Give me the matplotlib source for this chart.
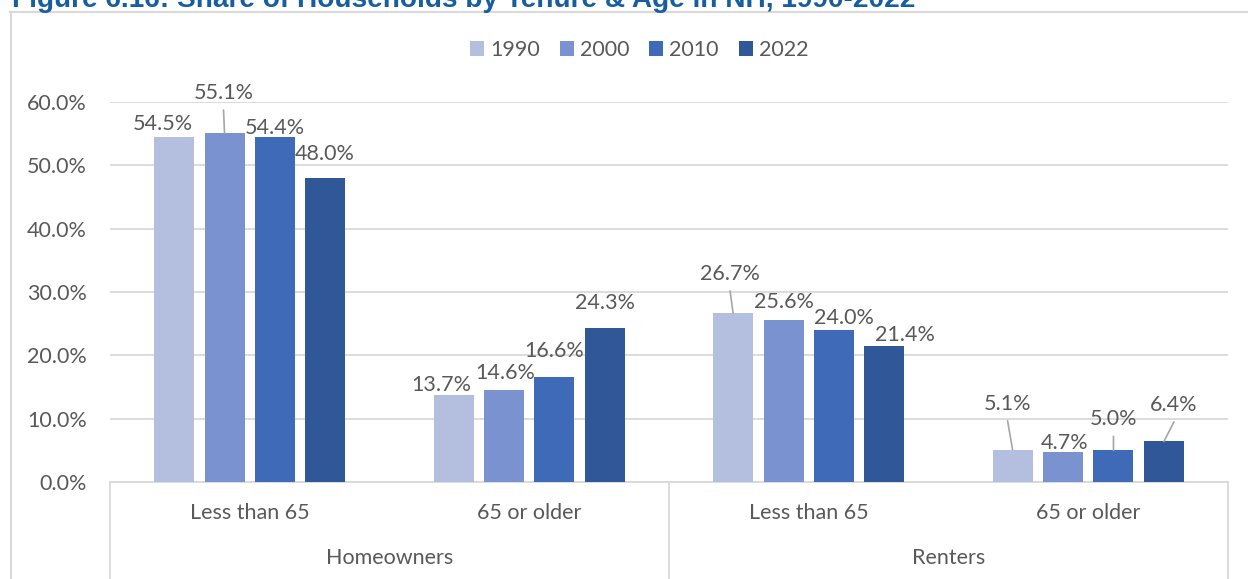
import matplotlib
matplotlib.use("Agg")
import matplotlib.pyplot as plt
from matplotlib.lines import Line2D
from matplotlib.patches import Patch
import numpy as np

# ---- data ----
years = ["1990", "2000", "2010", "2022"]
subgroups = ["Less than 65", "65 or older", "Less than 65", "65 or older"]
tenures = ["Homeowners", "Renters"]
share_1990 = [54.5, 13.7, 26.7, 5.1]
share_2000 = [55.1, 14.6, 25.6, 4.7]
share_2010 = [54.4, 16.6, 24.0, 5.0]
share_2022 = [48.0, 24.3, 21.4, 6.4]
series = [share_1990, share_2000, share_2010, share_2022]
y_ticks = [0, 10, 20, 30, 40, 50, 60]

title = "Figure 6.16: Share of Households by Tenure & Age in NH, 1990-2022"

# ---- styling ----
colors = ["#B4BFE0", "#7A93D0", "#3E6AB8", "#305899"]
text_color = "#595959"
grid_color = "#D9D9D9"
leader_color = "#A6A6A6"
font = ["Lato", "DejaVu Sans"]
fs = 15.5

# label offsets from each bar's top centre, in pixels (dx, dy), per series / group
label_offsets = [
    [(-11, 13), (-12, 10), (-3, 39), (-5, 46)],
    [(-1, 40), (1, 17), (0, 18), (1.5, 9)],
    [(0, 9), (0, 26), (10, 12), (0, 31)],
    [(-1, 24.5), (0, 25), (21, 11.5), (10, 36.5)],
]
# labels that get a leader line back to the bar
leaders = {(1, 0), (0, 2), (0, 3), (2, 3), (3, 3)}

W, H, DPI = 1248, 579, 100
plt.rcParams["font.family"] = font
fig = plt.figure(figsize=(W / DPI, H / DPI), dpi=DPI)

ax_l, ax_r, ax_b, ax_t = 110, 1228, 482, 102
ax = fig.add_axes([ax_l / W, 1 - ax_b / H, (ax_r - ax_l) / W, (ax_b - ax_t) / H])

n_groups = len(subgroups)
x = np.arange(n_groups)
bar_w = 0.143
step = 0.1805
offs = (np.arange(len(years)) - 1.5) * step

for i, (vals, c) in enumerate(zip(series, colors)):
    ax.bar(x + offs[i], vals, width=bar_w, color=c, zorder=3, label=years[i])

px2pt = 72 / DPI

ax.set_xlim(-0.5, n_groups - 0.5)
ax.set_ylim(0, 60)
ax.set_yticks(y_ticks)
ax.set_yticklabels([f"{t:.1f}%" for t in y_ticks], color=text_color, fontsize=fs)
ax.tick_params(axis="y", length=0, pad=23 * px2pt)
ax.set_xticks([])
ax.grid(axis="y", color=grid_color, linewidth=1.3, zorder=0)
for s in ax.spines.values():
    s.set_visible(False)
ax.spines["bottom"].set_visible(True)
ax.spines["bottom"].set_color(grid_color)
ax.spines["bottom"].set_linewidth(1.3)

# data labels
for i, vals in enumerate(series):
    for j, v in enumerate(vals):
        dx, dy = label_offsets[i][j]
        xc = x[j] + offs[i]
        ax.annotate(f"{v:.1f}%", xy=(xc, v), xytext=(dx * px2pt, dy * px2pt),
                    textcoords="offset points", ha="center", va="center",
                    fontsize=fs, color=text_color, annotation_clip=False, zorder=5)
        if (i, j) in leaders:
            ax.annotate("", xy=(xc, v), xytext=(dx * px2pt, (dy - 17) * px2pt),
                        textcoords="offset points", annotation_clip=False,
                        arrowprops=dict(arrowstyle="-", color=leader_color, lw=1.2,
                                        shrinkA=0, shrinkB=0), zorder=4)

# category axis: subgroup labels, tenure labels and separators
def fx(px):
    return px / W

def fy(py):
    return 1 - py / H

for j, name in enumerate(subgroups):
    xc_px = ax_l + (j + 0.5) * (ax_r - ax_l) / n_groups
    fig.text(fx(xc_px), fy(513), name, ha="center", va="center",
             fontsize=fs, color=text_color)
for k, name in enumerate(tenures):
    xc_px = ax_l + (k + 0.5) * (ax_r - ax_l) / len(tenures)
    fig.text(fx(xc_px), fy(558), name, ha="center", va="center",
             fontsize=fs, color=text_color)
for k in range(len(tenures) + 1):
    xs = ax_l + k * (ax_r - ax_l) / len(tenures)
    fig.add_artist(Line2D([fx(xs), fx(xs)], [fy(ax_b), 0], color=grid_color, lw=1.3))

# legend
handles = [Patch(facecolor=c, edgecolor="none") for c in colors]
leg = fig.legend(handles, years, loc="center", bbox_to_anchor=(fx(639), fy(50)),
                 ncol=4, frameon=False, fontsize=fs, handlelength=0.65, handleheight=0.65,
                 handletextpad=0.28, columnspacing=0.93, borderaxespad=0)
for t in leg.get_texts():
    t.set_color(text_color)

# chart frame (top and left edges)
fig.add_artist(Line2D([fx(10), 1], [fy(12), fy(12)], color=grid_color, lw=1.5))
fig.add_artist(Line2D([fx(11), fx(11)], [fy(12), 0], color=grid_color, lw=1.5))

# title
fig.text(fx(12), fy(7), title, ha="left", va="baseline", fontsize=20.2,
         fontweight="bold", color="#175EA0", family=["Liberation Sans", "DejaVu Sans"])

fig.savefig("out.png", dpi=DPI)
